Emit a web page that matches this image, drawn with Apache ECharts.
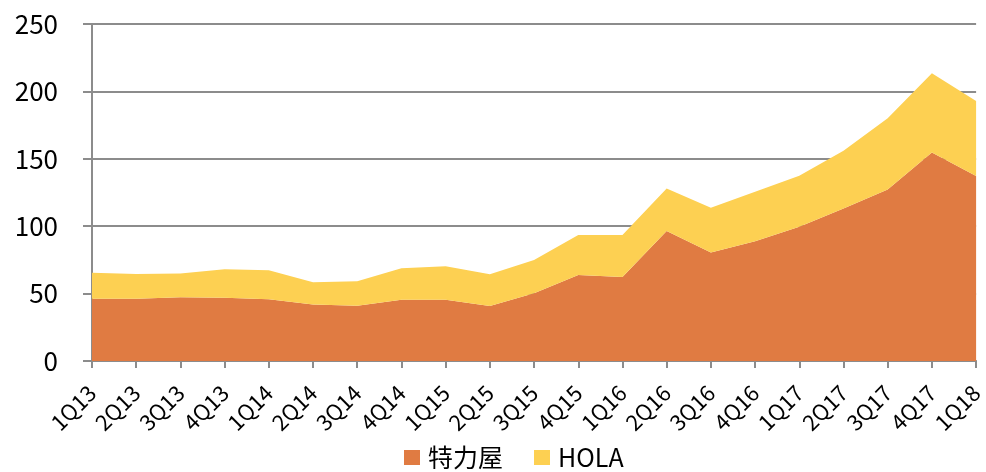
<!DOCTYPE html>
<html><head><meta charset="utf-8">
<script src="https://cdn.jsdelivr.net/npm/echarts@6/dist/echarts.min.js"></script>
<style>html,body{margin:0;padding:0;background:#fff}#c{width:986px;height:472px}</style>
</head><body><div id="c"></div>
<script>
var categories = ['1Q13','2Q13','3Q13','4Q13','1Q14','2Q14','3Q14','4Q14','1Q15','2Q15','3Q15','4Q15','1Q16','2Q16','3Q16','4Q16','1Q17','2Q17','3Q17','4Q17','1Q18'];
var tlw = [46.2,46.2,47.2,47.0,45.8,42.0,41.0,45.5,45.5,40.8,50.2,63.8,62.3,96.5,80.4,88.8,99.6,113.2,127.3,154.6,137.2];
var hola = [19.3,18.3,17.8,21.0,21.5,16.4,18.1,23.3,24.7,23.5,24.7,29.7,31.2,31.5,33.3,36.8,37.9,42.8,52.7,58.8,55.7];
var yTicks = [0,50,100,150,200,250];
var font = '"Noto Sans CJK TC","Noto Sans",sans-serif';
var chart = echarts.init(document.getElementById('c'));
chart.setOption({
  animation:false,
  grid:{left:92,right:7,top:24,bottom:111,containLabel:false},
  legend:{top:445,left:404,padding:0,itemWidth:16,itemHeight:15,itemGap:31,icon:'rect',
    textStyle:{fontSize:25,color:'#000',fontFamily:font,padding:[0,0,0,3]},
    data:['特力屋','HOLA']},
  xAxis:{type:'category',data:categories,boundaryGap:false,
    axisLine:{lineStyle:{color:'#8c8c8c',width:2}},
    axisTick:{show:true,length:7,lineStyle:{color:'#8c8c8c',width:2},alignWithLabel:true},
    axisLabel:{rotate:45,fontSize:22,color:'#000',fontFamily:font,margin:28,interval:0}},
  yAxis:{type:'value',min:0,max:250,interval:50,
    axisLine:{show:true,lineStyle:{color:'#8c8c8c',width:2}},
    axisTick:{show:true,length:9,lineStyle:{color:'#8c8c8c',width:2}},
    splitLine:{show:true,lineStyle:{color:'#8c8c8c',width:2}},
    axisLabel:{fontSize:26,color:'#000',fontFamily:font,margin:34}},
  series:[
    {name:'特力屋',type:'line',stack:'a',data:tlw,symbol:'none',lineStyle:{width:0},
     itemStyle:{color:'#E07B42'},areaStyle:{color:'#E07B42',opacity:1}},
    {name:'HOLA',type:'line',stack:'a',data:hola,symbol:'none',lineStyle:{width:0},
     itemStyle:{color:'#FDD052'},areaStyle:{color:'#FDD052',opacity:1}}
  ]
});
</script></body></html>
